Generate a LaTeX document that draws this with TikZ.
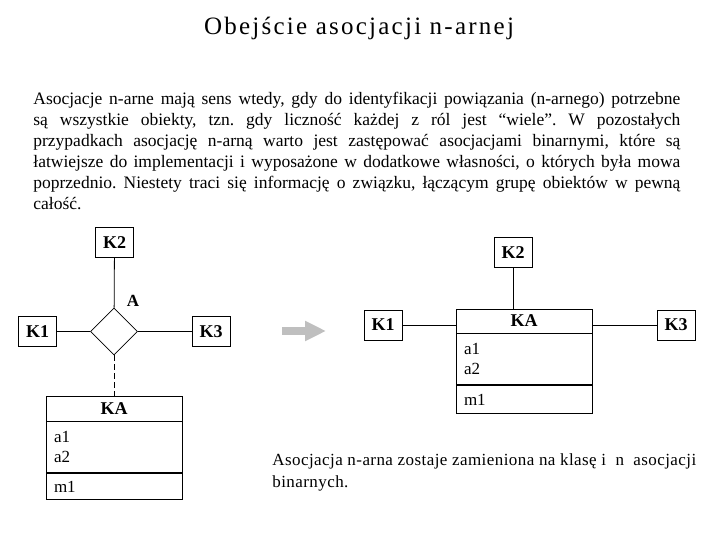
\documentclass[tikz,border=0pt]{standalone}
\usepackage{fontspec}
\setmainfont{Liberation Serif}
\newfontfamily\titlefont[LetterSpace=9]{Liberation Serif}
\newfontfamily\spacedfont[LetterSpace=2.5]{Liberation Serif}
\usepackage{tikz}
\usetikzlibrary{shapes.geometric, arrows.meta, positioning}
\frenchspacing

\begin{document}
\begin{tikzpicture}[
    x=1pt, y=-1pt,
    line width=0.8pt,
    cls_box/.style={rectangle, draw, minimum width=38pt, minimum height=30pt, inner sep=0pt, font=\fontsize{18}{20}\selectfont\bfseries},
    ka_head/.style={rectangle, draw, minimum width=136pt, minimum height=25pt, inner sep=0pt, font=\fontsize{18}{20}\selectfont\bfseries},
    ka_attr/.style={rectangle, draw, text width=120pt, minimum height=51pt, inner xsep=8pt, inner ysep=3pt, align=left, font=\fontsize{17}{20}\selectfont},
    ka_meth/.style={rectangle, draw, text width=120pt, minimum height=26pt, inner xsep=8pt, inner ysep=3pt, align=left, font=\fontsize{17}{20}\selectfont},
    assoc/.style={diamond, draw, minimum size=47pt, inner sep=0pt},
    body_text/.style={inner sep=0pt, font=\fontsize{17.5}{21}\selectfont}
]
\useasboundingbox (0,0) rectangle (720,540);

% title and description
\node (title) at (359,28) [font=\titlefont\fontsize{25}{30}\selectfont] {Obejście asocjacji n-arnej};
\node (intro) [body_text, anchor=north west, text width=647pt, align=justify] at (33,92) {Asocjacje n-arne mają sens wtedy, gdy do identyfikacji powiązania (n-arnego) potrzebne\linebreak
są wszystkie obiekty, tzn. gdy liczność każdej z ról jest “wiele”. W pozostałych\linebreak
przypadkach asocjację n-arną warto jest zastępować asocjacjami binarnymi, które są\linebreak
łatwiejsze do implementacji i wyposażone w dodatkowe własności, o których była mowa\linebreak
poprzednio. Niestety traci się informację o związku, łączącym grupę obiektów w pewną\linebreak
całość.};

% n-ary association
\node (k2l) [cls_box] at (114.5,242.5) {K2};
\node (dia) [assoc] at (114,331.5) {};
\node (assoc_name) [font=\fontsize{17}{18}\selectfont\bfseries] at (133,301) {A};
\node (k1l) [cls_box] at (37.5,331.5) {K1};
\node (k3l) [cls_box] at (211,331.5) {K3};
\node (kal) [ka_head] at (114,408.5) {KA};
\node (kal_attr) [ka_attr, below=0pt of kal] {a1\\a2};
\node (kal_meth) [ka_meth, below=0pt of kal_attr] {m1};

\draw (k2l) -- (dia);
\draw (k1l) -- (dia);
\draw (dia) -- (k3l);
\draw [dash pattern=on 6pt off 3pt] (dia) -- (kal);

% gray arrow
\coordinate (arr_s) at (282,331);
\coordinate (arr_e) at (326,331);
\draw [line width=8pt, black!25, -{Triangle[length=21pt, width=19pt]}] (arr_s) -- (arr_e);

% class with binary associations
\node (k2r) [cls_box] at (513,252.5) {K2};
\node (kar) [ka_head, minimum height=24pt] at (524,321) {KA};
\node (kar_attr) [ka_attr, below=0pt of kar] {a1\\a2};
\node (kar_meth) [ka_meth, minimum height=28pt, below=0pt of kar_attr] {m1};
\node (k1r) [cls_box] at (383,325) {K1};
\node (k3r) [cls_box] at (676,325) {K3};

\draw (k2r.south) -- (k2r.south |- kar.north);
\draw (k1r) -- (k1r -| kar.west);
\draw (k3r) -- (k3r -| kar.east);

\node (summary) [body_text, anchor=north west, align=left, font=\spacedfont\fontsize{17}{22}\selectfont] at (272,453) {Asocjacja n-arna zostaje zamieniona na klasę i~~n~~asocjacji\\binarnych.};
\end{tikzpicture}
\end{document}
